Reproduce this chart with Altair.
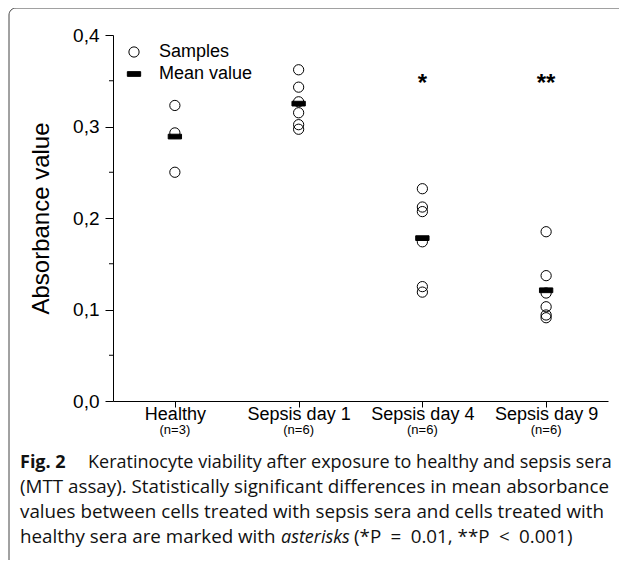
import altair as alt
import pandas as pd

# ---- data ----
groups = ["Healthy", "Sepsis day 1", "Sepsis day 4", "Sepsis day 9"]
n_labels = ["(n=3)", "(n=6)", "(n=6)", "(n=6)"]
healthy = [0.323, 0.293, 0.250]
day1 = [0.362, 0.343, 0.327, 0.315, 0.302, 0.297]
day4 = [0.232, 0.212, 0.207, 0.174, 0.125, 0.119]
day9 = [0.185, 0.137, 0.118, 0.103, 0.094, 0.091]
means = [0.289, 0.325, 0.178, 0.121]
stars = ["", "", "*", "**"]
y_major = [0.0, 0.1, 0.2, 0.3, 0.4]
y_minor = [0.05, 0.15, 0.25, 0.35]
kinds = ["Samples", "Mean value"]

cap_bold = "Fig. 2"
cap_line1 = "Keratinocyte viability after exposure to healthy and sepsis sera"
cap_line2 = "(MTT assay). Statistically significant differences in mean absorbance"
cap_line3 = "values between cells treated with sepsis sera and cells treated with"
cap_line4a = "healthy sera are marked with"
cap_line4b = "asterisks"
cap_line4c = "(*P\u2002=\u20020.01, **P\u2002<\u20020.001)"

rows = []
for g, vals in zip(groups, [healthy, day1, day4, day9]):
    for v in vals:
        rows.append({"group": g, "value": v, "kind": "Samples"})
for g, m in zip(groups, means):
    rows.append({"group": g, "value": m, "kind": "Mean value"})
df = pd.DataFrame(rows)

ann = pd.DataFrame({"group": groups, "n": n_labels, "star": stars})
minor_df = pd.DataFrame({"v": y_minor})
one = pd.DataFrame({"a": [0]})

W, H = 495, 366
AX_FONT = "Liberation Sans"
CAP_FONT = "Open Sans"

xscale = alt.Scale(type="point", domain=groups, padding=0.5)
yscale = alt.Scale(domain=[0, 0.4], nice=False, zero=True)
bar_path = "M-1.3,-0.46L1.3,-0.46L1.3,0.46L-1.3,0.46Z"

yaxis = alt.Axis(values=y_major,
                 labelExpr="replace(format(datum.value, '.1f'), '.', ',')",
                 tickSize=8, labelFontSize=19, labelFont=AX_FONT,
                 labelPadding=6, title="Absorbance value",
                 titleFont=AX_FONT, titleFontSize=24,
                 titleFontWeight="normal", titlePadding=19)

legend = alt.Legend(
    title=None, orient="none", legendX=12, legendY=8,
    labelFontSize=18, labelFont=AX_FONT, labelColor="black",
    symbolSize=105, symbolStrokeWidth=1,
    labelOffset=16, rowPadding=4, padding=0,
)

points = alt.Chart(df).mark_point(
    filled=True, strokeWidth=1, size=105, opacity=1
).encode(
    x=alt.X("group:N", scale=xscale, sort=groups,
            axis=alt.Axis(title=None, labelAngle=0, labelFontSize=18,
                          labelFont=AX_FONT, tickSize=6, labelPadding=-2)),
    y=alt.Y("value:Q", scale=yscale, axis=yaxis),
    shape=alt.Shape("kind:N", scale=alt.Scale(domain=kinds, range=["circle", bar_path]),
                    legend=legend),
    fill=alt.Fill("kind:N", scale=alt.Scale(domain=kinds, range=["transparent", "black"]),
                  legend=legend),
    stroke=alt.Stroke("kind:N", scale=alt.Scale(domain=kinds, range=["black", "black"]),
                      legend=legend),
)

border = alt.Chart(one).mark_rect(
    fill="transparent", stroke="#444", strokeWidth=1, cornerRadius=7
).encode(
    x=alt.value(-104), x2=alt.value(W + 60),
    y=alt.value(-27), y2=alt.value(H + 220),
)

minor = alt.Chart(minor_df).mark_rule(color="black", strokeWidth=1).encode(
    y=alt.Y("v:Q", scale=yscale, axis=yaxis),
    x=alt.value(-4), x2=alt.value(0),
)

star_text = alt.Chart(ann).mark_text(
    font=AX_FONT, fontSize=24, fontWeight="bold", baseline="alphabetic", color="black"
).encode(
    x=alt.X("group:N", scale=xscale, sort=groups),
    y=alt.value(56),
    text="star:N",
)

n_text = alt.Chart(ann).mark_text(
    font=AX_FONT, fontSize=13, baseline="middle", color="black"
).encode(
    x=alt.X("group:N", scale=xscale, sort=groups),
    y=alt.value(H + 29),
    text="n:N",
)

def cap(text, x, y, size=18.8, **kw):
    return alt.Chart(one).mark_text(
        font=CAP_FONT, fontSize=size, align="left", baseline="alphabetic",
        color="#111", **kw
    ).encode(x=alt.value(x), y=alt.value(y), text=alt.value(text))

caption = [
    cap(cap_bold, -93, 433, size=18, fontWeight="bold"),
    cap(cap_line1, -25, 433, size=18),
    cap(cap_line2, -93, 458),
    cap(cap_line3, -93, 483),
    cap(cap_line4a, -93, 508),
    cap(cap_line4b, 168, 508, size=18, fontStyle="italic"),
    cap(cap_line4c, 241, 508),
]

chart = alt.layer(points, border, minor, star_text, n_text, *caption).properties(
    width=W, height=H,
    autosize=alt.AutoSizeParams(type="none"),
    padding={"left": 105, "top": 27, "right": 11, "bottom": 159},
).configure_view(stroke=None).configure_axis(
    domainColor="black", tickColor="black", labelColor="black",
    titleColor="black", grid=False,
)

chart.save("out.html", embed_options={"renderer": "svg", "actions": False})
